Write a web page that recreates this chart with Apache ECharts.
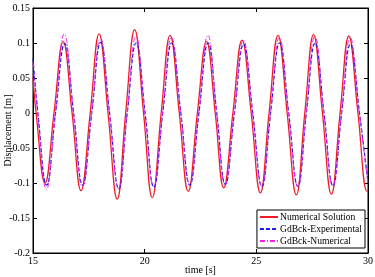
<!DOCTYPE html>
<html>
<head>
<meta charset="utf-8">
<script src="https://cdn.jsdelivr.net/npm/echarts@6/dist/echarts.min.js"></script>
<style>
  html, body { margin: 0; padding: 0; background: #fff; }
  #chart_main { width: 375px; height: 277px; }
</style>
</head>
<body>
<div id="chart_main"></div>
<script>
// series names
let series_names = ['Numerical Solution', 'GdBck-Experimental', 'GdBck-Numerical'];

// numerical solution (red): times and displacements at extremes / zero crossings
let num_time = [15.00, 15.14, 15.54, 15.94, 16.35, 16.75, 17.15, 17.56, 17.96, 18.36,
    18.77, 19.15, 19.55, 19.95, 20.34, 20.74, 21.14, 21.55, 21.95, 22.36,
    22.77, 23.16, 23.54, 23.95, 24.36, 24.77, 25.18, 25.57, 25.97, 26.38,
    26.79, 27.17, 27.56, 27.96, 28.36, 28.75, 29.14, 29.55, 29.96, 30.00];
let num_disp = [0.050, 0, -0.100, 0, 0.102, 0, -0.111, 0, 0.113, 0,
    -0.123, 0, 0.119, 0, -0.121, 0, 0.111, 0, -0.112, 0,
    0.102, 0, -0.107, 0, 0.104, 0, -0.114, 0, 0.111, 0,
    -0.117, 0, 0.112, 0, -0.116, 0, 0.110, 0, -0.112, -0.111];

// GdBck experimental (blue dashed)
let exp_time = [15.00, 15.22, 15.61, 16.01, 16.42, 16.82, 17.22, 17.63, 18.03, 18.43,
    18.84, 19.22, 19.62, 20.02, 20.41, 20.81, 21.21, 21.62, 22.02, 22.43,
    22.84, 23.23, 23.61, 24.02, 24.43, 24.84, 25.25, 25.64, 26.04, 26.45,
    26.86, 27.24, 27.63, 28.03, 28.43, 28.82, 29.21, 29.62, 30.00];
let exp_disp = [0.078, 0, -0.103, 0, 0.099, 0, -0.103, 0, 0.101, 0,
    -0.108, 0, 0.100, 0, -0.106, 0, 0.100, 0, -0.103, 0,
    0.100, 0, -0.102, 0, 0.098, 0, -0.105, 0, 0.100, 0,
    -0.105, 0, 0.100, 0, -0.104, 0, 0.098, 0, -0.100];

// GdBck numerical (magenta dash-dot)
let gdn_time = [15.00, 15.21, 15.60, 16.00, 16.40, 16.81, 17.21, 17.62, 18.02, 18.42,
    18.83, 19.21, 19.61, 20.01, 20.40, 20.80, 21.20, 21.61, 22.01, 22.42,
    22.83, 23.22, 23.60, 24.01, 24.42, 24.83, 25.24, 25.63, 26.03, 26.44,
    26.85, 27.23, 27.62, 28.02, 28.42, 28.81, 29.20, 29.61, 30.00];
let gdn_disp = [0.072, 0, -0.109, 0, 0.113, 0, -0.105, 0, 0.107, 0,
    -0.108, 0, 0.109, 0, -0.105, 0, 0.108, 0, -0.102, 0,
    0.111, 0, -0.102, 0, 0.104, 0, -0.104, 0, 0.108, 0,
    -0.104, 0, 0.110, 0, -0.104, 0, 0.108, 0, -0.101];

let x_ticks = [15, 20, 25, 30];
let y_ticks = [-0.2, -0.15, -0.1, -0.05, 0, 0.05, 0.1, 0.15];

function pairs(t, v) {
    let out = [];
    for (let i = 0; i < t.length; i++) {
        out.push([t[i], v[i]]);
    }
    return out;
}

let font = 'Liberation Serif, Times New Roman, serif';
let myChart = echarts.init(document.getElementById('chart_main'));

let option = {
    animation: false,
    backgroundColor: '#fff',
    grid: {
        left: 33, right: 7, top: 8, bottom: 24,
        outerBoundsMode: 'none', containLabel: false,
        show: true, borderColor: '#000', borderWidth: 1
    },
    legend: {
        orient: 'vertical',
        right: 10, bottom: 29,
        itemWidth: 18, itemHeight: 10, itemGap: 2,
        padding: [2, 3, 2, 2],
        backgroundColor: '#fff',
        borderColor: '#000', borderWidth: 1,
        itemStyle: {opacity: 0},
        textStyle: {fontFamily: font, fontSize: 9.6, color: '#000', padding: [0, 0, 0, -3]},
        data: series_names
    },
    xAxis: [{
        type: 'value',
        min: x_ticks[0], max: x_ticks[x_ticks.length - 1], interval: 5,
        name: 'time [s]', nameLocation: 'middle', nameGap: 12, nameMoveOverlap: false,
        nameTextStyle: {fontFamily: font, fontSize: 10, color: '#000'},
        axisLine: {show: true, onZero: false, lineStyle: {color: '#000'}},
        axisTick: {inside: true, length: 4, lineStyle: {color: '#000'}},
        axisLabel: {fontFamily: font, fontSize: 10, color: '#000', margin: 3},
        splitLine: {show: false}
    }, {
        type: 'value', position: 'top',
        min: x_ticks[0], max: x_ticks[x_ticks.length - 1], interval: 5,
        axisLine: {show: true, onZero: false, lineStyle: {color: '#000'}},
        axisTick: {inside: true, length: 4, lineStyle: {color: '#000'}},
        axisLabel: {show: false},
        splitLine: {show: false}
    }],
    yAxis: [{
        type: 'value',
        min: y_ticks[0], max: y_ticks[y_ticks.length - 1], interval: 0.05,
        name: 'Displacement [m]', nameLocation: 'middle', nameGap: 20, nameMoveOverlap: false,
        nameTextStyle: {fontFamily: font, fontSize: 10, color: '#000'},
        axisLine: {show: true, onZero: false, lineStyle: {color: '#000'}},
        axisTick: {inside: true, length: 4, lineStyle: {color: '#000'}},
        axisLabel: {fontFamily: font, fontSize: 10, color: '#000', margin: 3},
        splitLine: {show: false}
    }, {
        type: 'value', position: 'right',
        min: y_ticks[0], max: y_ticks[y_ticks.length - 1], interval: 0.05,
        axisLine: {show: true, onZero: false, lineStyle: {color: '#000'}},
        axisTick: {inside: true, length: 4, lineStyle: {color: '#000'}},
        axisLabel: {show: false},
        splitLine: {show: false}
    }],
    series: [{
        name: series_names[0],
        type: 'line', smooth: 0.45, symbol: 'none',
        lineStyle: {color: '#ee1c25', width: 1.3},
        itemStyle: {color: '#ee1c25'},
        data: pairs(num_time, num_disp)
    }, {
        name: series_names[1],
        type: 'line', smooth: 0.45, symbol: 'none',
        lineStyle: {color: '#1a1aee', width: 1.2, type: [4, 2]},
        itemStyle: {color: '#1a1aee'},
        data: pairs(exp_time, exp_disp)
    }, {
        name: series_names[2],
        type: 'line', smooth: 0.45, symbol: 'none',
        lineStyle: {color: '#ee22ee', width: 1, type: [5, 2, 1, 2]},
        itemStyle: {color: '#ee22ee'},
        data: pairs(gdn_time, gdn_disp)
    }]
};
myChart.setOption(option);
</script>
</body>
</html>
